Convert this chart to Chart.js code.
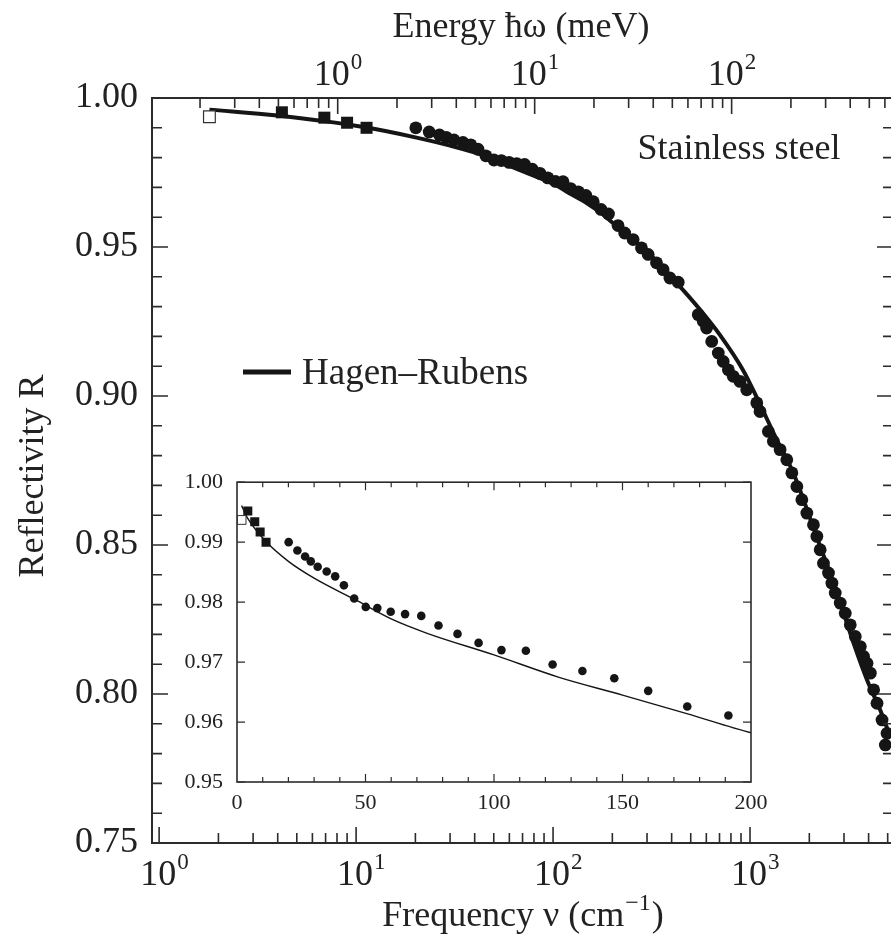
<!DOCTYPE html>
<html>
<head>
<meta charset="utf-8">
<title>Stainless steel reflectivity</title>
<script src="https://cdn.jsdelivr.net/npm/chart.js@4.4.1/dist/chart.umd.min.js"></script>
<style>
  html, body { margin: 0; padding: 0; background: #fff; overflow: hidden; }
  #wrap { position: relative; width: 910px; height: 942px; }
  #mainChart { position: absolute; left: 0; top: 0; }
  #insetChart { position: absolute; left: 170px; top: 455px; }
</style>
</head>
<body>
<div id="wrap">
  <canvas id="mainChart" width="910" height="942"></canvas>
  <canvas id="insetChart" width="610" height="370"></canvas>
</div>
<script>
// values (frequency in cm^-1, reflectivity R)
const openSquareNu = [1.8];
const openSquareR = [0.9937];

const squareNu = [4.2, 6.9, 9.0, 11.3];
const squareR = [0.9952, 0.9934, 0.9917, 0.9900];

const circleNu = [20.1, 23.5, 26.5, 28.7, 31.4, 34.9, 38.2, 41.6, 45.6, 50.1,
  54.6, 59.8, 65.4, 71.7, 78.4, 85.8, 94.0, 102.9, 112.4, 122.8,
  134.4, 146.8, 160.0, 175.2, 191.2,
  213.7, 231, 255, 281, 304, 335, 362, 392, 432,
  546, 579, 602, 639, 690, 731, 776, 822, 889, 962,
  1082, 1124, 1239, 1314, 1421, 1537, 1631, 1729, 1833, 1943,
  2099, 2185, 2271, 2360, 2503, 2605, 2708, 2871, 3044, 3228,
  3423, 3630, 3773, 3926, 4080, 4242, 4414, 4680, 4864, 4962];
const circleR = [0.9900, 0.9886, 0.9876, 0.9868, 0.9859, 0.9851, 0.9843, 0.9828, 0.9806, 0.9792,
  0.9790, 0.9784, 0.9780, 0.9777, 0.9761, 0.9747, 0.9732, 0.9720, 0.9719, 0.9696,
  0.9685, 0.9673, 0.9652, 0.9626, 0.9611,
  0.9572, 0.9547, 0.9525, 0.9497, 0.9475, 0.9447, 0.9424, 0.9396, 0.9382,
  0.9273, 0.9251, 0.9228, 0.9183, 0.9144, 0.9116, 0.9088, 0.9066, 0.9049, 0.9021,
  0.8977, 0.8948, 0.8881, 0.8848, 0.8820, 0.8786, 0.8742, 0.8696, 0.8652, 0.8607,
  0.8568, 0.8529, 0.8484, 0.8439, 0.8406, 0.8372, 0.8339, 0.8305, 0.8271, 0.8232,
  0.8193, 0.8159, 0.8126, 0.8103, 0.8070, 0.8014, 0.7969, 0.7913, 0.7829, 0.7868];

// Hagen-Rubens curve
const hagenRubensNu = [1.8, 4, 11.3, 20, 30, 46, 60, 74, 100, 125, 150, 175, 200,
  300, 440, 557, 703, 925, 1082, 1368, 1661, 2200, 2700, 3358, 3929, 4575, 5000];
const hagenRubensR = [0.9961, 0.9941, 0.9901, 0.9868, 0.9840, 0.9804, 0.9772, 0.9748, 0.9712, 0.9675, 0.9645, 0.9614, 0.9582,
  0.9485, 0.9368, 0.9290, 0.9205, 0.9085, 0.8995, 0.8853, 0.8741, 0.8520, 0.8360, 0.8170, 0.8047, 0.7947, 0.7880];

// axes
const freqDecades = [1, 10, 100, 1000];
const freqExponents = ['0', '1', '2', '3'];
const energyDecades = [1, 10, 100];
const energyExponents = ['0', '1', '2'];
const reflTicks = [0.75, 0.80, 0.85, 0.90, 0.95, 1.00];
const insetFreqTicks = [0, 50, 100, 150, 200];
const insetReflTicks = [0.95, 0.96, 0.97, 0.98, 0.99, 1.00];

const CM_PER_MEV = 8.0655;
const FREQ_MIN = 0.92, FREQ_MAX = 5320;

const SERIF = '"Liberation Serif", "Times New Roman", serif';
const INK = '#151515';
const TEXT = '#222';
const FRAME = '#2b2b2b';

const pts = (xs, ys) => xs.map((v, i) => ({ x: v, y: ys[i] }));

function logTickValues(min, max) {
  const out = [];
  for (let e = Math.floor(Math.log10(min)); e <= Math.ceil(Math.log10(max)); e++) {
    for (let k = 1; k <= 9; k++) {
      const v = k * Math.pow(10, e);
      if (v >= min * 0.999 && v <= max * 1.001) out.push({ v: v, major: k === 1 });
    }
  }
  return out;
}

// "10" with a raised exponent; base centred on cx + shift
function drawPower(ctx, cx, baseY, exp, shift) {
  ctx.font = '36px ' + SERIF;
  const wb = ctx.measureText('10').width;
  const x0 = cx + shift - wb / 2;
  ctx.textAlign = 'left';
  ctx.textBaseline = 'alphabetic';
  ctx.fillText('10', x0, baseY);
  ctx.font = '23px ' + SERIF;
  ctx.fillText(exp, x0 + wb + 1, baseY - 16);
}

const mainFrame = {
  id: 'mainFrame',
  afterDraw(chart) {
    const { ctx, chartArea: a } = chart;
    const sx = chart.scales.x, st = chart.scales.xTop, sy = chart.scales.y;
    ctx.save();
    ctx.strokeStyle = FRAME;
    ctx.lineWidth = 1.6;
    ctx.beginPath();
    logTickValues(sx.min, sx.max).forEach(t => {
      const px = sx.getPixelForValue(t.v);
      ctx.moveTo(px, a.bottom);
      ctx.lineTo(px, a.bottom - (t.major ? 16 : 10));
    });
    logTickValues(st.min, st.max).forEach(t => {
      const px = st.getPixelForValue(t.v);
      ctx.moveTo(px, a.top);
      ctx.lineTo(px, a.top + (t.major ? 16 : 10));
    });
    for (let k = 75; k <= 100; k++) {
      const py = sy.getPixelForValue(k / 100);
      const len = k % 5 === 0 ? 16 : 10;
      ctx.moveTo(a.left, py); ctx.lineTo(a.left + len, py);
      ctx.moveTo(a.right, py); ctx.lineTo(a.right - len, py);
    }
    ctx.stroke();
    ctx.lineWidth = 2;
    ctx.strokeRect(a.left, a.top, a.right - a.left, a.bottom - a.top);

    ctx.fillStyle = TEXT;
    freqDecades.forEach((v, i) => drawPower(ctx, sx.getPixelForValue(v), 885, freqExponents[i], -1));
    energyDecades.forEach((v, i) => drawPower(ctx, st.getPixelForValue(v), 85, energyExponents[i], -6));

    ctx.font = '36px ' + SERIF;
    ctx.textAlign = 'center';
    ctx.textBaseline = 'alphabetic';
    ctx.fillText('Energy \u0127\u03C9 (meV)', 521, 37);
    ctx.fillText('Stainless steel', 739, 159);

    // bottom title with superscript
    const t1 = 'Frequency \u03BD (cm', t2 = '\u22121', t3 = ')';
    ctx.font = '36px ' + SERIF;
    const w1 = ctx.measureText(t1).width, w3 = ctx.measureText(t3).width;
    ctx.font = '24px ' + SERIF;
    const w2 = ctx.measureText(t2).width;
    let x = 523 - (w1 + w2 + w3 + 2) / 2;
    ctx.textAlign = 'left';
    ctx.font = '36px ' + SERIF;
    ctx.fillText(t1, x, 926);
    ctx.font = '24px ' + SERIF;
    ctx.fillText(t2, x + w1 + 1, 910);
    ctx.font = '36px ' + SERIF;
    ctx.fillText(t3, x + w1 + w2 + 2, 926);

    // y title
    ctx.save();
    ctx.translate(34, 476);
    ctx.rotate(-Math.PI / 2);
    ctx.textAlign = 'center';
    ctx.textBaseline = 'middle';
    ctx.fillText('Reflectivity R', 0, 0);
    ctx.restore();

    // legend entry
    ctx.strokeStyle = INK;
    ctx.lineWidth = 5;
    ctx.beginPath();
    ctx.moveTo(243, 372); ctx.lineTo(291, 372);
    ctx.stroke();
    ctx.textAlign = 'left';
    ctx.font = '37px ' + SERIF;
    ctx.fillText('Hagen\u2013Rubens', 302, 384);
    ctx.restore();
  }
};

new Chart(document.getElementById('mainChart'), {
  type: 'scatter',
  data: {
    datasets: [
      { data: pts(openSquareNu, openSquareR), pointStyle: 'rect', pointRadius: 8.3,
        backgroundColor: '#fff', borderColor: '#333', borderWidth: 1.2 },
      { data: pts(squareNu, squareR), pointStyle: 'rect', pointRadius: 8.5,
        backgroundColor: INK, borderColor: INK, borderWidth: 0 },
      { data: pts(circleNu, circleR), pointStyle: 'circle', pointRadius: 6.4,
        backgroundColor: INK, borderColor: INK, borderWidth: 0 },
      { data: pts(hagenRubensNu, hagenRubensR), showLine: true, pointRadius: 0,
        borderColor: INK, borderWidth: 4, cubicInterpolationMode: 'monotone' }
    ]
  },
  options: {
    responsive: false,
    devicePixelRatio: 1,
    animation: false,
    events: [],
    layout: { padding: { left: 0, top: 98, right: 17, bottom: 99 } },
    plugins: { legend: { display: false }, tooltip: { enabled: false } },
    scales: {
      x: { type: 'logarithmic', position: 'bottom', min: FREQ_MIN, max: FREQ_MAX, display: false },
      xTop: { type: 'logarithmic', position: 'top', min: FREQ_MIN / CM_PER_MEV, max: FREQ_MAX / CM_PER_MEV, display: false },
      y: {
        type: 'linear', position: 'left', min: 0.75, max: 1.0,
        afterBuildTicks: s => { s.ticks = reflTicks.map(v => ({ value: v })); },
        afterFit: s => { s.width = 152; },
        ticks: { callback: v => v.toFixed(2), font: { family: SERIF, size: 36 }, color: TEXT, padding: 14 },
        grid: { display: false, drawTicks: false },
        border: { display: false }
      }
    }
  },
  plugins: [mainFrame]
});

const insetFrame = {
  id: 'insetFrame',
  beforeDraw(chart) {
    const { ctx, chartArea: a } = chart;
    ctx.save();
    ctx.fillStyle = '#fff';
    ctx.fillRect(a.left, a.top, a.right - a.left, a.bottom - a.top);
    ctx.restore();
  },
  afterDraw(chart) {
    const { ctx, chartArea: a } = chart;
    const sx = chart.scales.x, sy = chart.scales.y;
    ctx.save();
    ctx.strokeStyle = FRAME;
    ctx.lineWidth = 1.2;
    ctx.beginPath();
    for (let v = 10; v < 200; v += 10) {
      const px = sx.getPixelForValue(v);
      const len = v % 50 === 0 ? 8 : 5;
      ctx.moveTo(px, a.bottom); ctx.lineTo(px, a.bottom - len);
      ctx.moveTo(px, a.top); ctx.lineTo(px, a.top + len);
    }
    insetReflTicks.forEach(v => {
      const py = sy.getPixelForValue(v);
      ctx.moveTo(a.left, py); ctx.lineTo(a.left + 8, py);
      ctx.moveTo(a.right, py); ctx.lineTo(a.right - 8, py);
    });
    ctx.stroke();
    ctx.lineWidth = 1.6;
    ctx.strokeRect(a.left, a.top, a.right - a.left, a.bottom - a.top);
    ctx.restore();
  }
};

new Chart(document.getElementById('insetChart'), {
  type: 'scatter',
  data: {
    datasets: [
      { data: pts(openSquareNu, openSquareR), pointStyle: 'rect', pointRadius: 6.2,
        backgroundColor: '#fff', borderColor: '#333', borderWidth: 1 },
      { data: pts(squareNu, squareR), pointStyle: 'rect', pointRadius: 6.4,
        backgroundColor: INK, borderColor: INK, borderWidth: 0 },
      { data: pts(circleNu, circleR), pointStyle: 'circle', pointRadius: 4.3,
        backgroundColor: INK, borderColor: INK, borderWidth: 0 },
      { data: pts(hagenRubensNu, hagenRubensR), showLine: true, pointRadius: 0,
        borderColor: INK, borderWidth: 1.4, cubicInterpolationMode: 'monotone' }
    ]
  },
  options: {
    responsive: false,
    devicePixelRatio: 1,
    animation: false,
    events: [],
    layout: { padding: { left: 0, top: 17, right: 29, bottom: 0 } },
    plugins: { legend: { display: false }, tooltip: { enabled: false } },
    scales: {
      x: {
        type: 'linear', position: 'bottom', min: 0, max: 200,
        afterBuildTicks: s => { s.ticks = insetFreqTicks.map(v => ({ value: v })); },
        afterFit: s => { s.height = 43; },
        ticks: { font: { family: SERIF, size: 22 }, color: TEXT, padding: 8, maxRotation: 0 },
        grid: { display: false, drawTicks: false },
        border: { display: false }
      },
      y: {
        type: 'linear', position: 'left', min: 0.95, max: 1.0,
        afterBuildTicks: s => { s.ticks = insetReflTicks.map(v => ({ value: v })); },
        afterFit: s => { s.width = 67; },
        ticks: { callback: v => v.toFixed(2), font: { family: SERIF, size: 22 }, color: TEXT, padding: 14 },
        grid: { display: false, drawTicks: false },
        border: { display: false }
      }
    }
  },
  plugins: [insetFrame]
});
</script>
</body>
</html>
